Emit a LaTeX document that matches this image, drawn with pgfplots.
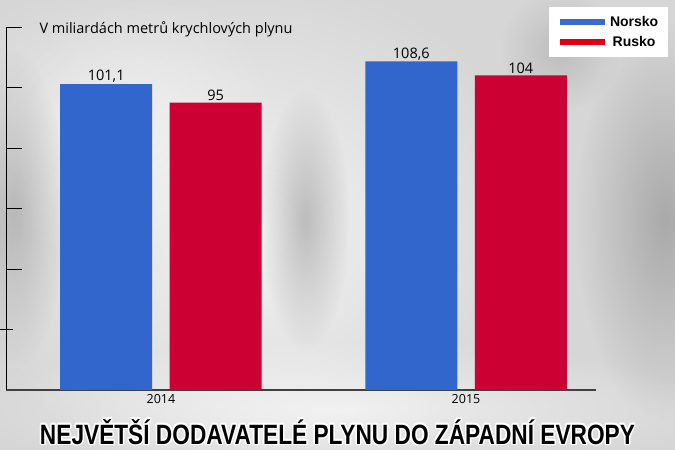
\documentclass[border=0pt]{standalone}
\usepackage{pgfplots}
\pgfplotsset{compat=1.18}
\usetikzlibrary{fadings}
\usepackage{fontspec}
\setmainfont{Open Sans}
\newfontfamily\legfont{Liberation Sans}
\definecolor{nblue}{HTML}{3366CC}
\definecolor{rred}{HTML}{CC0033}
\definecolor{legblue}{HTML}{3A6BCB}
\definecolor{legred}{HTML}{DD0015}
\definecolor{bg}{HTML}{D6D6D6}
\tikzfading[name=fadeout, inner color=transparent!0, outer color=transparent!100]
\begin{document}
\begin{tikzpicture}[x=1pt,y=1pt]
% background
\useasboundingbox (0,0) rectangle (675,450);
\begin{scope}
\clip (0,0) rectangle (675,450);
\fill[bg] (0,0) rectangle (675,450);
\fill[white, opacity=0.7, path fading=fadeout] (250,220) ellipse (300 and 260);
\fill[white, opacity=0.5, path fading=fadeout] (110,330) ellipse (170 and 140);
\fill[white, opacity=0.6, path fading=fadeout] (340,40) ellipse (380 and 70);
\fill[black!55, opacity=0.4, path fading=fadeout] (305,230) ellipse (45 and 130);
\fill[black!55, opacity=0.45, path fading=fadeout] (665,230) ellipse (90 and 200);
\fill[black!55, opacity=0.35, path fading=fadeout] (15,240) ellipse (50 and 160);
\fill[black!55, opacity=0.25, path fading=fadeout] (560,400) ellipse (60 and 60);
\end{scope}
\begin{axis}[
  at={(6pt,60pt)}, anchor=south west,
  scale only axis, width=590pt, height=363pt,
  xmin=-0.508, xmax=1.426, ymin=0, ymax=120,
  axis y line=left, axis x line=bottom,
  axis line style={-},
  y axis line style={black, line width=0.9pt},
  x axis line style={black!75, line width=1.4pt},
  ybar=17.5pt, bar width=92pt,
  xtick={0,1}, xticklabels={2014,2015},
  x tick style={draw=none},
  x tick label style={font=\fontsize{12.5}{15}\selectfont, yshift=-1pt},
  ytick={40,60,80,100,120}, yticklabels={},
  y tick style={black, line width=0.8pt},
  tick align=inside, major tick length=16pt,
  extra y ticks={20}, extra y tick labels={},
  extra y tick style={tick align=center, major tick length=14pt},
  /pgf/number format/assume math mode=true,
  /pgf/number format/use comma,
  nodes near coords,
  nodes near coords style={font=\fontsize{14.5}{16}\selectfont, text=black, yshift=-2pt},
  clip=false,
  legend style={at={(0.920,1.055)}, anchor=north west, fill=white, draw=none,
    font=\legfont\bfseries\fontsize{14}{16}\selectfont,
    row sep=4pt, inner xsep=8pt, inner ysep=7pt,
    /tikz/every even column/.append style={column sep=2pt}},
]
\addplot[fill=nblue, draw=none,
  legend image code/.code={\draw[legblue, line width=6pt] (0pt,0pt) -- (45pt,0pt);}]
  coordinates {(0,101.1) (1,108.6)};
\addplot[fill=rred, draw=none,
  legend image code/.code={\draw[legred, line width=6pt] (0pt,0pt) -- (45pt,0pt);}]
  coordinates {(0,95) (1,104)};
\legend{Norsko,Rusko}
\end{axis}
\node[anchor=base west, font=\fontsize{14.5}{16}\selectfont] at (36,416) {V miliardách metrů krychlových plynu};
% title with white halo
\foreach \dx/\dy in {1.6/0,-1.6/0,0/1.6,0/-1.6,1.1/1.1,-1.1/1.1,1.1/-1.1,-1.1/-1.1} {
  \node[anchor=base, text=white] at (337.5+\dx,6+\dy) {\resizebox{595pt}{25pt}{\legfont\bfseries NEJVĚTŠÍ DODAVATELÉ PLYNU DO ZÁPADNÍ EVROPY}};
}
\node[anchor=base, text=black] at (337.5,6) {\resizebox{595pt}{25pt}{\legfont\bfseries NEJVĚTŠÍ DODAVATELÉ PLYNU DO ZÁPADNÍ EVROPY}};
\end{tikzpicture}
\end{document}
